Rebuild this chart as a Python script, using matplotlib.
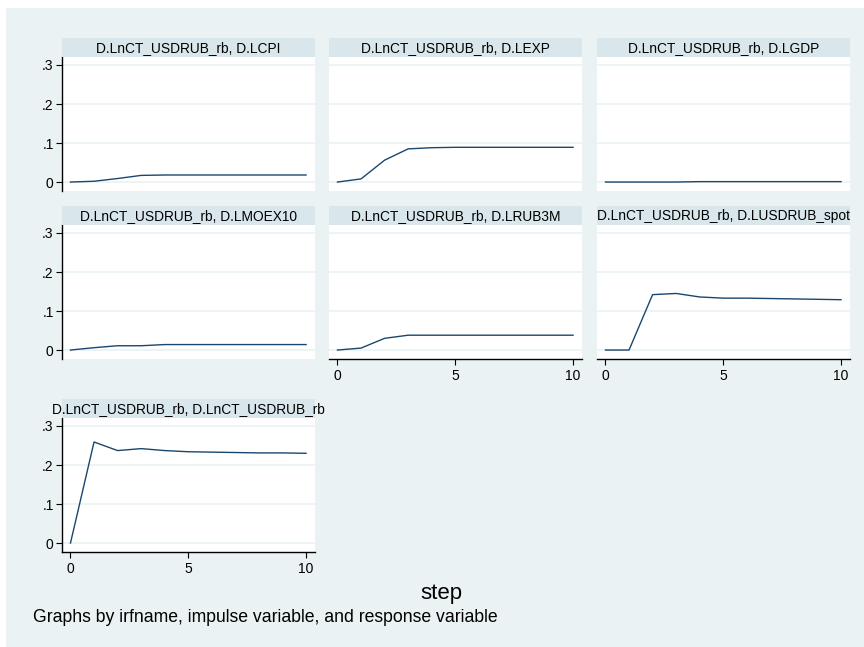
import numpy as np
import matplotlib
matplotlib.use("Agg")
import matplotlib.pyplot as plt
from matplotlib.patches import Rectangle

plt.rcParams['font.family'] = ['Liberation Sans', 'DejaVu Sans']

steps = np.arange(11)
titles = [
    "D.LnCT_USDRUB_rb, D.LCPI",
    "D.LnCT_USDRUB_rb, D.LEXP",
    "D.LnCT_USDRUB_rb, D.LGDP",
    "D.LnCT_USDRUB_rb, D.LMOEX10",
    "D.LnCT_USDRUB_rb, D.LRUB3M",
    "D.LnCT_USDRUB_rb, D.LUSDRUB_spot",
    "D.LnCT_USDRUB_rb, D.LnCT_USDRUB_rb",
]
irf_lcpi = [0, 0.002, 0.009, 0.017, 0.018, 0.018, 0.018, 0.018, 0.018, 0.018, 0.018]
irf_lexp = [0, 0.008, 0.056, 0.085, 0.088, 0.089, 0.089, 0.089, 0.089, 0.089, 0.089]
irf_lgdp = [0, 0, 0, 0, 0.001, 0.001, 0.001, 0.001, 0.001, 0.001, 0.001]
irf_lmoex = [0, 0.006, 0.011, 0.011, 0.014, 0.014, 0.014, 0.014, 0.014, 0.014, 0.014]
irf_lrub3m = [0, 0.005, 0.030, 0.038, 0.038, 0.038, 0.038, 0.038, 0.038, 0.038, 0.038]
irf_spot = [0, 0, 0.142, 0.145, 0.136, 0.133, 0.133, 0.132, 0.131, 0.130, 0.129]
irf_own = [0, 0.259, 0.237, 0.242, 0.237, 0.234, 0.233, 0.232, 0.231, 0.231, 0.230]
series = [irf_lcpi, irf_lexp, irf_lgdp, irf_lmoex, irf_lrub3m, irf_spot, irf_own]

yticks = [0, 0.1, 0.2, 0.3]
ylabels = ["0", ".1", ".2", ".3"]
xticks = [0, 5, 10]

W, H = 864, 647
bg = "#eaf2f3"
band = "#d9e6eb"
navy = "#1a476f"

fig = plt.figure(figsize=(W / 100, H / 100), dpi=100)
fig.patch.set_facecolor("white")
fig.add_artist(Rectangle((6 / W, 0), 1, 1 - 8 / H, transform=fig.transFigure,
                         facecolor=bg, edgecolor="none", zorder=-10))

col_x = [62, 329, 597]
row_top = [38, 206, 399]  # header top in pixels
pw, hh, ph = 253, 19, 134

for i, (title, vals) in enumerate(zip(titles, series)):
    r, c = divmod(i, 3)
    x0 = col_x[c]
    ytop = row_top[r] + hh
    ax = fig.add_axes([x0 / W, 1 - (ytop + ph) / H, pw / W, ph / H])
    ax.set_facecolor("white")
    ax.plot(steps, vals, color=navy, lw=1.0, zorder=3)
    ax.set_xlim(-0.36, 10.38)
    ax.set_ylim(-0.023, 0.3205)
    ax.set_yticks(yticks)
    ax.set_xticks(xticks)
    ax.grid(axis="y", color=bg, lw=1.2)
    ax.set_axisbelow(True)
    for s in ["top", "right"]:
        ax.spines[s].set_visible(False)
    show_y = c == 0
    show_x = i >= 4
    ax.spines["left"].set_visible(show_y)
    ax.spines["bottom"].set_visible(show_x)
    ax.spines["left"].set_linewidth(1.0)
    ax.spines["bottom"].set_linewidth(1.0)
    ax.tick_params(axis="y", length=4, width=0.8, labelsize=10, pad=2,
                   left=show_y, labelleft=show_y)
    ax.tick_params(axis="x", length=4, width=0.8, labelsize=10, pad=3,
                   bottom=show_x, labelbottom=show_x)
    if show_y:
        ax.set_yticklabels(ylabels)
    # header band with the panel title
    fig.add_artist(Rectangle((x0 / W, 1 - ytop / H), pw / W, hh / H,
                             transform=fig.transFigure, facecolor=band,
                             edgecolor="none"))
    fig.text((x0 + pw / 2) / W, 1 - (row_top[r] + hh / 2 + 0.5) / H, title,
             ha="center", va="center", fontsize=9.9)

fig.text(441 / W, 1 - 594 / H, "step", ha="center", va="center", fontsize=16)
fig.text(33 / W, 1 - 618 / H, "Graphs by irfname, impulse variable, and response variable",
         ha="left", va="center", fontsize=12.7)

fig.savefig("out.png", dpi=100)
